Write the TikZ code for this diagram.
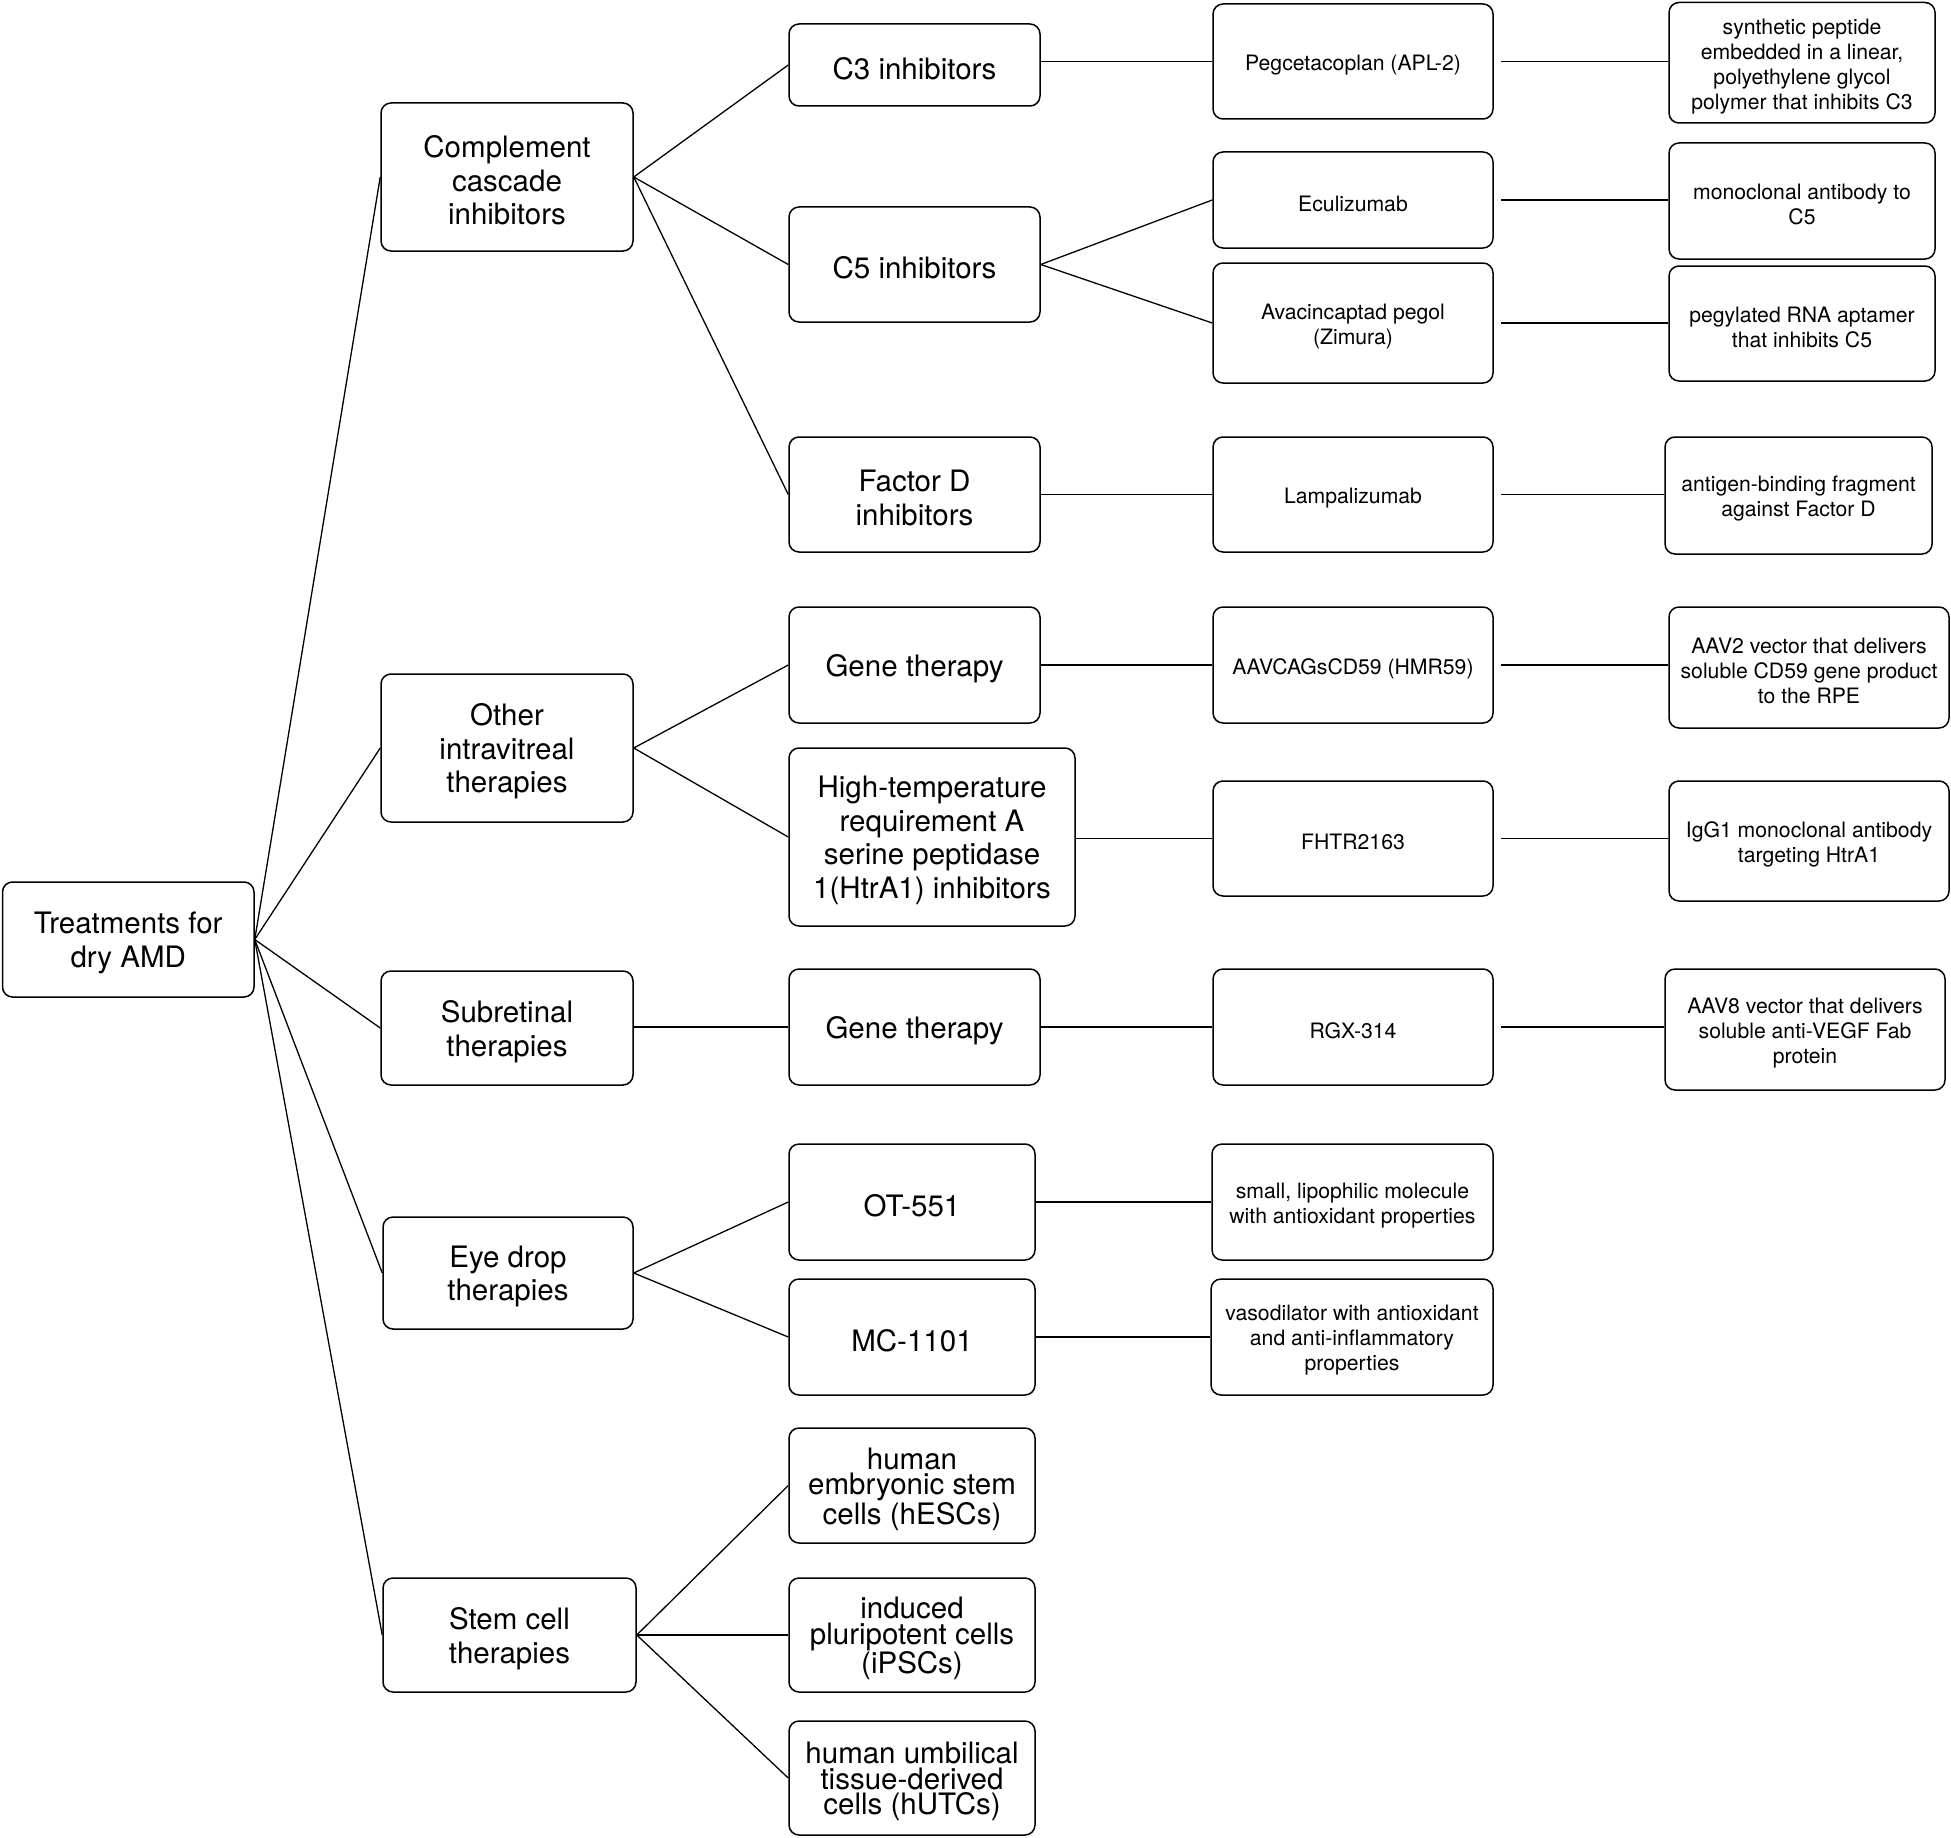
\documentclass[tikz,border=0pt]{standalone}
\usepackage{fontspec}
\setmainfont{TeX Gyre Heros}
\newcommand\bx[7]{%
  \node[frame, minimum width={#4-#2}, minimum height={#5-#3}] (#1) at ({(#2+#4)/2},{(#3+#5)/2}) {};
  \node[#6, yshift=-3.5pt] at (#1.center) {#7};}
\tikzset{
  frame/.style={draw, rounded corners=10pt, line width=1.5pt, inner sep=0pt},
  txt/.style={align=center, inner sep=0pt},
  big/.style={txt, font=\fontsize{29.5}{33.5}\selectfont},
  tight/.style={txt, font=\fontsize{29.5}{25.5}\selectfont},
  small/.style={txt, font=\fontsize{21.2}{25}\selectfont},
  conn/.style={line width=1.3pt},
  gapconn/.style={conn, shorten <=7pt}
}
\begin{document}
\begin{tikzpicture}[x=1pt,y=-1pt]
\useasboundingbox[fill=white] (0,0) rectangle (1951,1838);
% root
\bx{root}{2.5}{882}{254}{997}{big}{Treatments for\\dry AMD}
% level 1
\bx{comp}{381}{103}{633}{251}{big}{Complement\\cascade\\inhibitors}
\bx{other}{381}{674}{633}{822}{big}{Other\\intravitreal\\therapies}
\bx{sub}{381}{971}{633}{1085}{big}{Subretinal\\therapies}
\bx{eye}{383}{1217}{633}{1329}{big}{Eye drop\\therapies}
\bx{stem}{383}{1578}{636}{1692}{big}{Stem cell\\therapies}
% level 2
\bx{c3}{789}{24}{1040}{106}{big}{C3 inhibitors}
\bx{c5}{789}{207}{1040}{322}{big}{C5 inhibitors}
\bx{fd}{789}{437}{1040}{552}{big}{Factor D\\inhibitors}
\bx{gt1}{789}{607}{1040}{723}{big}{Gene therapy}
\bx{htra}{789}{748}{1075}{926}{big}{High-temperature\\requirement A\\serine peptidase\\1(HtrA1) inhibitors}
\bx{gt2}{789}{969}{1040}{1085}{big}{Gene therapy}
\bx{ot}{789}{1144}{1035}{1260}{big}{OT-551}
\bx{mc}{789}{1279}{1035}{1395}{big}{MC-1101}
\bx{hesc}{789}{1428}{1035}{1543}{tight}{human\\embryonic stem\\cells (hESCs)}
\bx{ipsc}{789}{1578}{1035}{1692}{tight}{induced\\pluripotent cells\\(iPSCs)}
\bx{hutc}{789}{1721}{1035}{1835}{tight}{human umbilical\\tissue-derived\\cells (hUTCs)}
% level 3
\bx{peg}{1213}{4}{1493}{119}{small}{Pegcetacoplan (APL-2)}
\bx{ecu}{1213}{152}{1493}{248}{small}{Eculizumab}
\bx{ava}{1213}{263}{1493}{383}{small}{Avacincaptad pegol\\(Zimura)}
\bx{lam}{1213}{437}{1493}{552}{small}{Lampalizumab}
\bx{aav}{1213}{607}{1493}{723}{small}{AAVCAGsCD59 (HMR59)}
\bx{fhtr}{1213}{781}{1493}{896}{small}{FHTR2163}
\bx{rgx}{1213}{969}{1493}{1085}{small}{RGX-314}
\bx{smallmol}{1212}{1144}{1493}{1260}{small}{small, lipophilic molecule\\with antioxidant properties}
\bx{vaso}{1211}{1279}{1493}{1395}{small}{vasodilator with antioxidant\\and anti-inflammatory\\properties}
% level 4
\bx{syn}{1669}{2.5}{1935}{123}{small}{synthetic peptide\\embedded in a linear,\\polyethylene glycol\\polymer that inhibits C3}
\bx{mono}{1669}{143}{1935}{259}{small}{monoclonal antibody to\\C5}
\bx{pegy}{1669}{266}{1935}{381}{small}{pegylated RNA aptamer\\that inhibits C5}
\bx{anti}{1665}{437}{1932}{554}{small}{antigen-binding fragment\\against Factor D}
\bx{aavtwo}{1669}{607}{1949}{728}{small}{AAV2 vector that delivers\\soluble CD59 gene product\\to the RPE}
\bx{igg}{1669}{781}{1949}{901}{small}{IgG1 monoclonal antibody\\targeting HtrA1}
\bx{aaveight}{1665}{969}{1945}{1090}{small}{AAV8 vector that delivers\\soluble anti-VEGF Fab\\protein}
% connectors
\foreach \t in {comp,other,sub,eye,stem} \draw[conn] (root.east) -- (\t.west);
\foreach \t in {c3,c5,fd} \draw[conn] (comp.east) -- (\t.west);
\foreach \t in {gt1,htra} \draw[conn] (other.east) -- (\t.west);
\draw[conn] (sub.east |- gt2.west) -- (gt2.west);
\foreach \t in {ot,mc} \draw[conn] (eye.east) -- (\t.west);
\foreach \t in {hesc,ipsc,hutc} \draw[conn] (stem.east) -- (\t.west);
\draw[conn] (c3.east |- peg.west) -- (peg.west);
\foreach \t in {ecu,ava} \draw[conn] (c5.east) -- (\t.west);
\draw[conn] (fd.east) -- (lam.west);
\draw[conn] (gt1.east) -- (aav.west);
\draw[conn] (htra.east |- fhtr.west) -- (fhtr.west);
\draw[conn] (gt2.east) -- (rgx.west);
\draw[conn] (ot.east |- smallmol.west) -- (smallmol.west);
\draw[conn] (mc.east |- vaso.west) -- (vaso.west);
\draw[gapconn] (peg.east) -- (peg.east -| syn.west);
\draw[gapconn] (ecu.east) -- (ecu.east -| mono.west);
\draw[gapconn] (ava.east) -- (ava.east -| pegy.west);
\draw[gapconn] (lam.east) -- (lam.east -| anti.west);
\draw[gapconn] (aav.east) -- (aav.east -| aavtwo.west);
\draw[gapconn] (fhtr.east) -- (fhtr.east -| igg.west);
\draw[gapconn] (rgx.east) -- (rgx.east -| aaveight.west);
\end{tikzpicture}
\end{document}
